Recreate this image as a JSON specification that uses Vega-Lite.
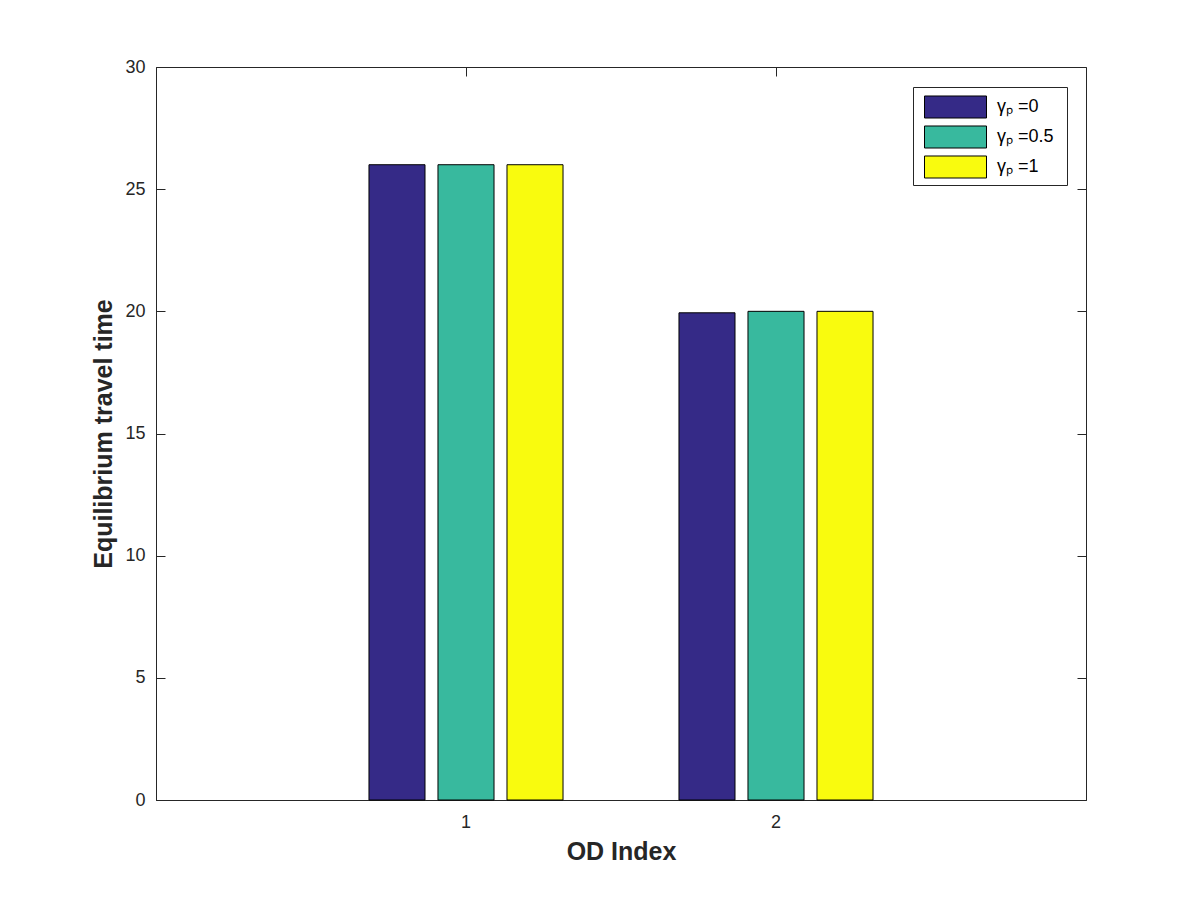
{
  "$schema": "https://vega.github.io/schema/vega-lite/v6.json",
  "width": 930,
  "height": 733,
  "autosize": "none",
  "padding": {"left": 156, "top": 67, "right": 114, "bottom": 100},
  "background": "white",
  "config": {
    "font": "Liberation Sans",
    "view": {"stroke": "#262626", "strokeWidth": 1},
    "axis": {"domainColor": "#262626", "tickColor": "#262626", "labelColor": "#262626", "titleColor": "#262626", "grid": false, "labelFontSize": 18, "labelFontWeight": "normal", "titleFontSize": 25, "titleFontWeight": "bold", "tickSize": -9}
  },
  "data": {
    "values": [
      {"od": "1", "gamma": "γₚ =0", "time": 26},
      {"od": "1", "gamma": "γₚ =0.5", "time": 26},
      {"od": "1", "gamma": "γₚ =1", "time": 26},
      {"od": "2", "gamma": "γₚ =0", "time": 19.94},
      {"od": "2", "gamma": "γₚ =0.5", "time": 20},
      {"od": "2", "gamma": "γₚ =1", "time": 20}
    ]
  },
  "layer": [
    {
      "mark": {"type": "bar", "stroke": "black", "strokeWidth": 1},
      "encoding": {
        "x": {"field": "od", "type": "ordinal", "scale": {"paddingInner": 0, "paddingOuter": 0.5}, "axis": {"orient": "bottom", "labelAngle": 0, "title": "OD Index", "labelPadding": 22, "titlePadding": 8, "labelFontSize": 18}},
        "xOffset": {"field": "gamma", "type": "nominal", "sort": ["γₚ =0", "γₚ =0.5", "γₚ =1"], "scale": {"paddingInner": 0.188, "paddingOuter": 0.84}},
        "y": {"field": "time", "type": "quantitative", "scale": {"domain": [0, 30], "nice": false}, "axis": {"orient": "left", "values": [0, 5, 10, 15, 20, 25, 30], "title": "Equilibrium travel time", "labelPadding": 20, "titlePadding": 8, "labelFontSize": 18}},
        "color": {
          "field": "gamma", "type": "nominal",
          "sort": ["γₚ =0", "γₚ =0.5", "γₚ =1"],
          "scale": {"domain": ["γₚ =0", "γₚ =0.5", "γₚ =1"], "range": ["#352a87", "#38b99e", "#f9fb0e"]},
          "legend": {
            "title": null, "orient": "none", "legendX": 757, "legendY": 20,
            "strokeColor": "#262626", "fillColor": "white", "padding": 4,
            "labelFontSize": 18, "labelColor": "#000000", "labelOffset": 25.5,
            "labelExpr": "datum.label + '\u2002\u200b'",
            "symbolType": "M-2,-0.71H2V0.71H-2Z", "symbolSize": 961, "symbolOffset": 22.5,
            "symbolStrokeColor": "black", "symbolStrokeWidth": 1, "symbolOpacity": 1,
            "rowPadding": -1
          }
        }
      }
    },
    {
      "mark": {"type": "bar", "opacity": 0},
      "encoding": {
        "x": {"field": "od", "type": "ordinal", "axis": {"orient": "top", "labels": false, "title": null, "domain": false}},
        "xOffset": {"field": "gamma", "type": "nominal", "sort": ["γₚ =0", "γₚ =0.5", "γₚ =1"]},
        "y": {"field": "time", "type": "quantitative", "axis": {"orient": "right", "values": [0, 5, 10, 15, 20, 25, 30], "labels": false, "title": null, "domain": false}}
      }
    }
  ],
  "resolve": {"axis": {"x": "independent", "y": "independent"}}
}
